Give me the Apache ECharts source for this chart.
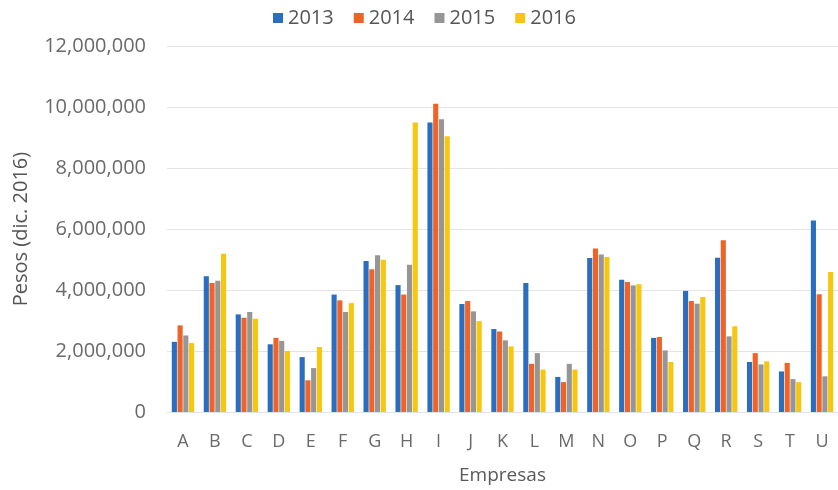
<!DOCTYPE html>
<html>
<head>
<meta charset="utf-8">
<script src="https://cdn.jsdelivr.net/npm/echarts@6/dist/echarts.min.js"></script>
<style>html,body{margin:0;padding:0;background:#fff}#c{width:838px;height:490px}</style>
</head>
<body>
<div id="c"></div>
<script>
const categories = ['A','B','C','D','E','F','G','H','I','J','K','L','M','N','O','P','Q','R','S','T','U'];
const years = ['2013','2014','2015','2016'];
const v2013 = [2300000,4450000,3200000,2220000,1800000,3850000,4950000,4160000,9490000,3540000,2720000,4230000,1150000,5050000,4340000,2430000,3970000,5060000,1640000,1330000,6280000];
const v2014 = [2840000,4230000,3090000,2430000,1040000,3660000,4680000,3850000,10110000,3640000,2640000,1580000,980000,5360000,4260000,2460000,3640000,5630000,1930000,1610000,3860000];
const v2015 = [2510000,4300000,3280000,2330000,1440000,3280000,5140000,4830000,9600000,3300000,2350000,1930000,1580000,5160000,4150000,2020000,3550000,2480000,1560000,1080000,1170000];
const v2016 = [2260000,5190000,3060000,2000000,2130000,3570000,4990000,9490000,9040000,2980000,2150000,1390000,1390000,5080000,4190000,1640000,3770000,2810000,1660000,980000,4590000];
const yTicks = [0,2000000,4000000,6000000,8000000,10000000,12000000];
const colors = ['#2B6DBE','#EE6328','#969696','#F7C60F'];
const font = '"Open Sans", sans-serif';
const seriesData = [v2013, v2014, v2015, v2016];

const chart = echarts.init(document.getElementById('c'), null, {renderer:'canvas'});
chart.setOption({
  animation: false,
  color: colors,
  textStyle: {fontFamily: font},
  legend: {
    top: 3, left: 268,
    itemWidth: 10, itemHeight: 10, itemGap: 20,
    icon: 'rect',
    textStyle: {fontSize: 20, color: '#555', fontFamily: font},
    data: years
  },
  grid: {left: 167, right: -7, top: 46, bottom: 78, containLabel: false},
  xAxis: {
    type: 'category',
    data: categories,
    name: 'Empresas',
    nameLocation: 'middle',
    nameGap: 54,
    nameTextStyle: {fontSize: 19, color: '#595959', fontFamily: font},
    axisLine: {lineStyle: {color: '#e3e3e3'}},
    axisTick: {show: false},
    axisLabel: {fontSize: 18, color: '#6a6a6a', margin: 21, fontFamily: font}
  },
  yAxis: {
    type: 'value',
    min: yTicks[0], max: yTicks[yTicks.length-1], interval: yTicks[1]-yTicks[0],
    name: 'Pesos (dic. 2016)',
    nameLocation: 'middle',
    nameGap: 136,
    nameTextStyle: {fontSize: 20, color: '#555', fontFamily: font},
    axisLine: {show: false},
    axisTick: {show: false},
    splitLine: {lineStyle: {color: '#e4e4e4'}},
    axisLabel: {fontSize: 20, color: '#6a6a6a', margin: 21, fontFamily: font,
      formatter: v => v.toLocaleString('en-US')}
  },
  series: years.map((y, i) => ({
    name: y, type: 'bar', data: seriesData[i],
    barGap: '12%', barCategoryGap: '30%'
  }))
});
</script>
</body>
</html>
